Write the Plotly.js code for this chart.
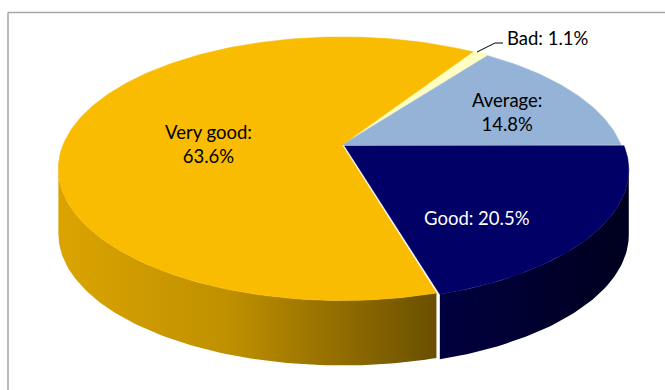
<!DOCTYPE html>
<html>
<head>
<meta charset="utf-8">
<script src="https://cdn.plot.ly/plotly-3.0.1.min.js"></script>
<style>
html,body{margin:0;padding:0;background:#fff;}
#chart{width:665px;height:390px;}
</style>
</head>
<body>
<div id="chart"></div>
<script>
// ---- data ----
const categories = ['Bad', 'Average', 'Good', 'Very good'];
const values = [1.1, 14.8, 20.5, 63.6];

// ---- styles ----
const topColors = ['#FFFFC4', '#95B3D7', '#000066', '#F9BC00'];
const wallScales = [
  [[0, '#E0E0A0'], [1, '#A0A070']],
  [[0, '#7090B0'], [1, '#506880']],
  [[0, '#000040'], [1, '#00001E']],
  [[0, '#DBA400'], [0.45, '#BF9000'], [1, '#6A4F00']]
];
const explode = [0.012, 0, 0.012, 0];
const labelColors = ['#000', '#000', '#fff', '#000'];

// ---- projection (pseudo-3D perspective) ----
const cx = 342, cy = 145, Rx = 279, Ry = 127.5, k = 0.18, depth = 65;
const startDeg = 32.7;
const rad = d => d * Math.PI / 180;

function proj(thetaDeg, r, drop, off) {
  let X = r * Math.sin(rad(thetaDeg)) + off[0];
  let Y = r * Math.cos(rad(thetaDeg)) + off[1];
  const s = 1 / (1 + k * Y);
  return [cx + Rx * X * s, cy - Ry * Y * s + drop];
}

const total = values.reduce((a, b) => a + b, 0);
const slices = [];
let acc = startDeg;
values.forEach((v, i) => {
  const a1 = acc, a2 = acc + v / total * 360;
  acc = a2;
  const mid = (a1 + a2) / 2;
  const off = [explode[i] * Math.sin(rad(mid)), explode[i] * Math.cos(rad(mid))];
  slices.push({a1, a2, off, i});
});

const silR = Math.acos(-k) * 180 / Math.PI;   // right silhouette angle
const silL = 360 - silR;                       // left silhouette angle

function arc(a1, a2, drop, off) {
  const pts = [];
  const n = Math.max(2, Math.ceil(Math.abs(a2 - a1)));
  for (let j = 0; j <= n; j++) {
    pts.push(proj(a1 + (a2 - a1) * j / n, 1, drop, off));
  }
  return pts;
}

const traces = [];
// walls (front-visible part only)
slices.forEach(s => {
  let lo = Math.max(s.a1, silR), hi = Math.min(s.a2, silL);
  if (hi > lo) {
    const top = arc(lo, hi, 0, s.off);
    const bot = arc(hi, lo, depth, s.off);
    const pts = top.concat(bot);
    pts.push(pts[0]);
    traces.push({
      type: 'scatter', mode: 'lines', hoverinfo: 'skip',
      x: pts.map(p => p[0]), y: pts.map(p => p[1]),
      fill: 'toself', line: {width: 0},
      fillcolor: wallScales[s.i][0][1],
      fillgradient: {type: 'horizontal', colorscale: wallScales[s.i]}
    });
  }
});
// top faces
slices.forEach(s => {
  const c = proj(0, 0, 0, s.off);
  const pts = [c].concat(arc(s.a1, s.a2, 0, s.off));
  pts.push(c);
  traces.push({
    type: 'scatter', mode: 'lines', hoverinfo: 'text',
    text: categories[s.i] + ': ' + values[s.i] + '%',
    x: pts.map(p => p[0]), y: pts.map(p => p[1]),
    fill: 'toself', fillcolor: topColors[s.i],
    line: {width: 0.6, color: topColors[s.i]}
  });
});

// ---- labels ----
const labelText = categories.map((c, i) => {
  const two = (c === 'Very good' || c === 'Average');
  return c + ':' + (two ? '<br>' : ' ') + values[i].toFixed(1) + '%';
});
const labelPos = [
  {x: 505, y: 38, xanchor: 'left'},
  {x: 507, y: 112, xanchor: 'center'},
  {x: 477, y: 218, xanchor: 'center'},
  {x: 208, y: 144, xanchor: 'center'}
];
const annotations = labelText.map((t, i) => ({
  text: t, x: labelPos[i].x, y: labelPos[i].y, xref: 'x', yref: 'y',
  xanchor: labelPos[i].xanchor, yanchor: 'middle', showarrow: false,
  align: 'center',
  font: {family: 'Lato, "Open Sans", sans-serif', size: 18.5, color: labelColors[i]}
}));

const layout = {
  width: 665, height: 390,
  margin: {l: 0, r: 0, t: 0, b: 0},
  paper_bgcolor: '#fff', plot_bgcolor: '#fff',
  showlegend: false,
  xaxis: {range: [0, 665], visible: false, fixedrange: true},
  yaxis: {range: [390, 0], visible: false, fixedrange: true},
  annotations: annotations,
  shapes: [
    {type: 'line', xref: 'x', yref: 'y', x0: 8, x1: 665, y0: 12.5, y1: 12.5,
     line: {color: '#A6A6A6', width: 1.5}},
    {type: 'line', xref: 'x', yref: 'y', x0: 8, x1: 8, y0: 12.5, y1: 390,
     line: {color: '#A6A6A6', width: 1.5}},
    {type: 'path', xref: 'x', yref: 'y', path: 'M477,52 L495,43 L503,43',
     line: {color: '#000', width: 1}}
  ]
};

Plotly.newPlot('chart', traces, layout, {displayModeBar: false, staticPlot: true});
</script>
</body>
</html>
